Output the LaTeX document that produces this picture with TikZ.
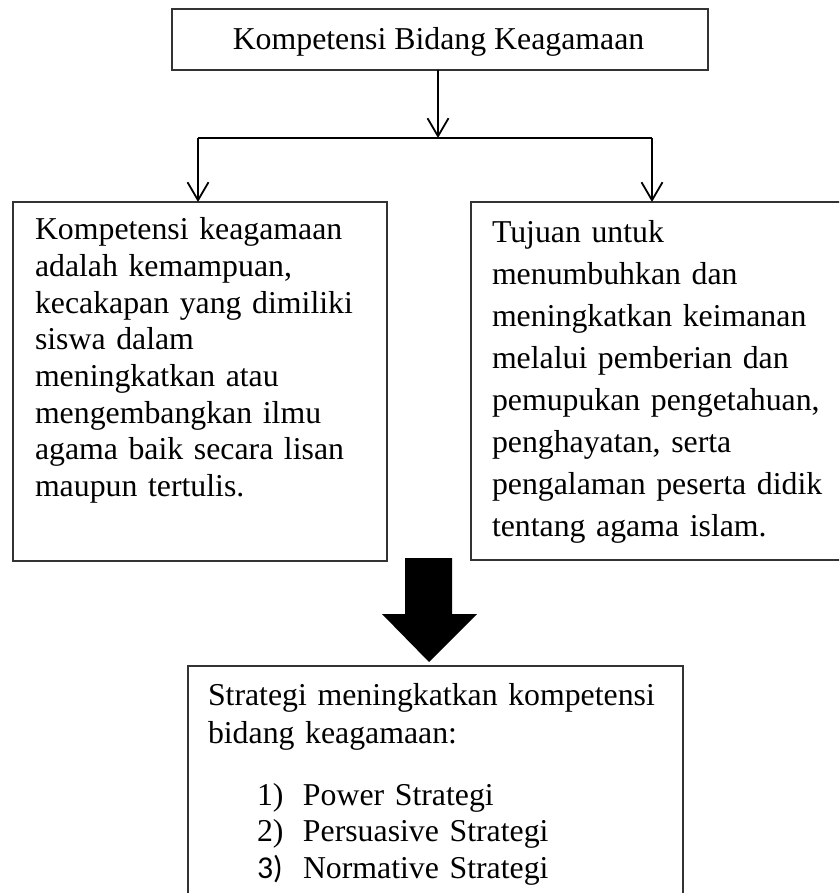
\documentclass[tikz,border=0pt]{standalone}
\usepackage{fontspec}
\setmainfont{Liberation Serif}
\newfontfamily\calibrifont{Carlito}
\usetikzlibrary{arrows.meta}
\begin{document}
\begin{tikzpicture}[x=1pt,y=-1pt,
  box/.style={draw=black!80, line width=1.3pt, inner sep=0pt, outer sep=0pt, anchor=north west},
  txt/.style={inner sep=0pt, outer sep=0pt, anchor=base west, align=left},
  conn/.style={line width=1.8pt, draw=black},
  tip/.style={-{Straight Barb[length=18pt,width=21pt]}}
]
\useasboundingbox (0,0) rectangle (839,893);
\clip (0,0) rectangle (839,893);
% boxes
\node[box, minimum width=536pt, minimum height=61pt] (top) at (172,9) {};
\node[box, minimum width=374pt, minimum height=359pt] (leftbox) at (13,202) {};
\node[box, minimum width=400pt, minimum height=358pt] (rightbox) at (471,202) {};
\node[box, minimum width=495pt, minimum height=260pt] (bottombox) at (188,666) {};
% texts
\node[inner sep=0pt, anchor=base, font=\fontsize{31.8}{36}\selectfont] (toptext) at (438.5,50) {Kompetensi Bidang Keagamaan};
\node[txt, text width=360pt, font=\fontsize{31.8}{36.6}\selectfont] (lefttext) at (35,240)
  {Kompetensi keagamaan\\adalah kemampuan,\\kecakapan yang dimiliki\\siswa dalam\\meningkatkan atau\\mengembangkan ilmu\\agama baik secara lisan\\maupun tertulis.};
\node[txt, text width=345pt, font=\fontsize{31.8}{42.1}\selectfont] (righttext) at (492,242)
  {Tujuan untuk\\menumbuhkan dan\\meningkatkan keimanan\\melalui pemberian dan\\pemupukan pengetahuan,\\penghayatan, serta\\pengalaman peserta didik\\tentang agama islam.};
\node[txt, text width=470pt, font=\fontsize{31.8}{38}\selectfont] (bottomtext) at (208,705)
  {Strategi meningkatkan kompetensi\\bidang keagamaan:};
\node[txt, text width=420pt, font=\fontsize{31.8}{36.5}\selectfont] (listtext) at (257,805)
  {\makebox[46pt][l]{1)}Power Strategi\\\makebox[46pt][l]{2)}Persuasive Strategi\\\makebox[46pt][l]{\calibrifont 3)}Normative Strategi};
% connectors
\coordinate (j) at (438,138);
\coordinate (la) at (198,138);
\coordinate (ra) at (652,138);
\draw[conn, tip] (top.south -| j) -- (j);
\draw[conn] (la) -- (ra);
\draw[conn, tip] (la) -- (la |- leftbox.north);
\draw[conn, tip] (ra) -- (ra |- rightbox.north);
% big arrow
\fill[black] (405,558) -- (452,558) -- (452,614) -- (477,614) -- (429,662) -- (382,614) -- (405,614) -- cycle;
\end{tikzpicture}
\end{document}
